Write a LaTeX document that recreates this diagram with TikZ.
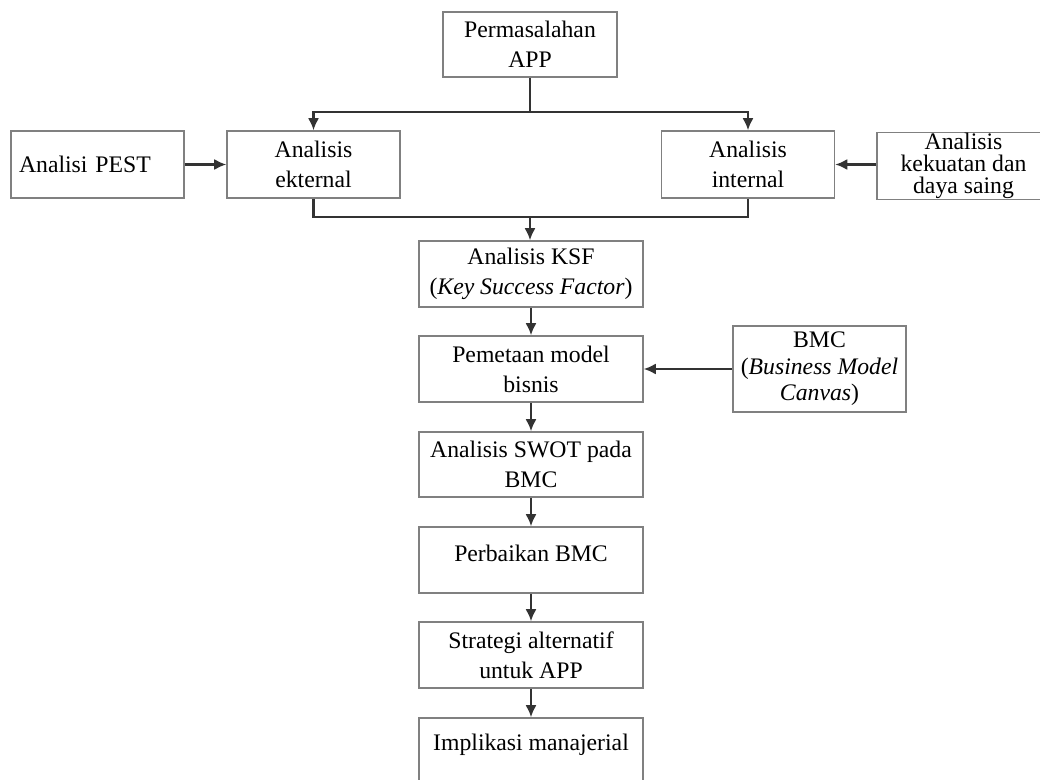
\documentclass[tikz,border=0pt]{standalone}
\usepackage{fontspec}
\setmainfont{Liberation Serif}
\usepackage{tikz}
\usetikzlibrary{positioning,shapes,arrows,arrows.meta}
\tikzstyle{box} = [rectangle, draw=black!50, line width=0.9pt, align=center, inner sep=0pt, minimum width=3.46cm, minimum height=1.34cm]
\tikzstyle{wide} = [box, minimum width=4.48cm, minimum height=1.32cm]
\tikzstyle{link} = [draw, black!80, line width=1.15pt]
\tikzstyle{line} = [link, -{Latex[length=0.24cm, width=0.22cm]}]

\begin{document}
\begin{tikzpicture}[x=0.02cm, y=-0.02cm, font=\fontsize{13.5}{17}\selectfont]
        \useasboundingbox (0, 0) rectangle (1040, 780);
        % Place nodes
        \node at (530, 44.5) [box, minimum width=3.48cm, minimum height=1.3cm] (perm) {Permasalahan\\APP};
        \node at (97.5, 164.5) [box, text width=3.14cm, align=left] (pest) {Analisi PEST};
        \node at (313.5, 164.5) [box] (ekt) {Analisis\\ekternal};
        \node at (748, 164.5) [box] (int) {Analisis\\internal};
        \node at (963.5, 166) [box] (kek) {Analisis\\[-4.5pt]kekuatan dan\\[-4.5pt]daya saing};
        \node at (531, 274) [wide] (ksf) {Analisis KSF\\(\textit{Key Success Factor})};
        \node at (531, 369) [wide] (pem) {Pemetaan model\\bisnis};
        \node at (819.5, 369) [box, minimum height=1.72cm] (bmc) {BMC\\[-2pt](\textit{Business Model}\\[-2pt]\textit{Canvas})};
        \node at (531, 464.5) [wide, minimum height=1.3cm] (swot) {Analisis SWOT pada\\BMC};
        \node at (531, 560) [wide] (perb) {Perbaikan BMC\\[-15pt]\strut};
        \node at (531, 655) [wide] (strat) {Strategi alternatif\\untuk APP};
        \node at (531, 751) [wide] (impl) {Implikasi manajerial\\[-12pt]\strut};
        \coordinate (split) at (530, 112);
        \coordinate (merge) at (530, 217);

        % Draw edges
        \path [line] (perm.south) -- (split) -| (ekt.north);
        \path [line] (perm.south) -- (split) -| (int.north);
        \path [line] (pest) -- (ekt);
        \path [line] (kek.west |- int.east) -- (int.east);
        \path [link] (ekt.south) |- (merge);
        \path [link] (int.south) |- (merge);
        \path [line] (merge) -- (merge |- ksf.north);
        \path [line] (ksf) -- (pem);
        \path [line] (bmc) -- (pem);
        \path [line] (pem) -- (swot);
        \path [line] (swot) -- (perb);
        \path [line] (perb) -- (strat);
        \path [line] (strat) -- (impl);
    \end{tikzpicture}
\end{document}
